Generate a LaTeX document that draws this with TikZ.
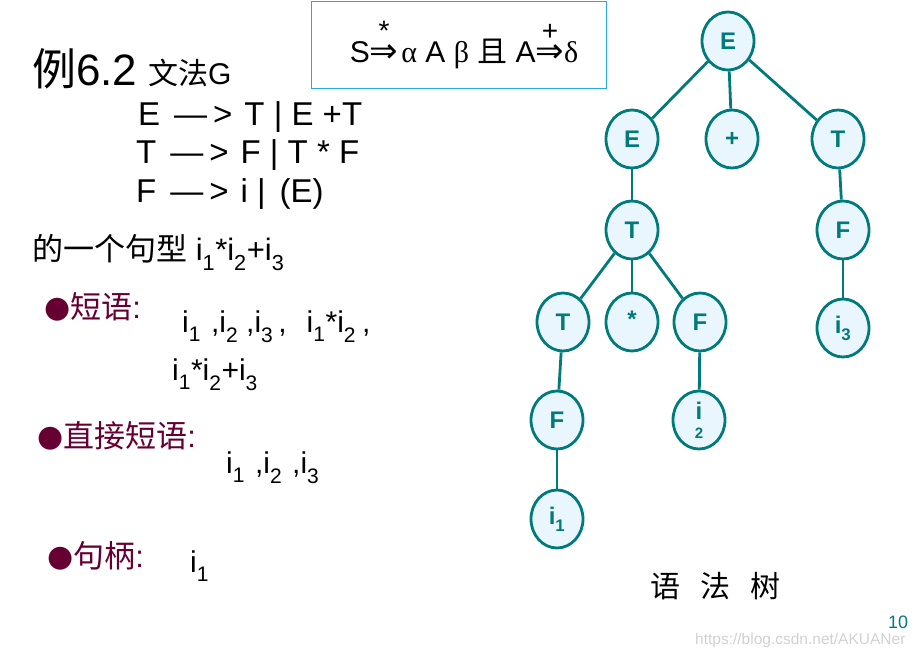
\documentclass[tikz,border=0pt]{standalone}
\usepackage{fontspec}
\setmainfont{Liberation Sans}
\newfontfamily\cjk{Noto Sans CJK SC}
\newfontfamily\dv{DejaVu Sans}
\newfontfamily\greek{Liberation Serif}
\usetikzlibrary{positioning}
\usetikzlibrary{shapes.geometric}

\definecolor{treeline}{RGB}{0,122,122}
\definecolor{treefill}{RGB}{234,246,253}
\definecolor{maroon}{RGB}{102,0,51}
\definecolor{boxblue}{RGB}{41,168,224}

\newcommand{\isub}[1]{i\raisebox{-0.25ex}{\textsubscript{#1}}}
\newcommand{\fsz}[1]{\fontsize{#1}{#1}\selectfont}
\newcommand{\bul}{{\dv\fsz{30}\raisebox{1pt}{●}}}
\newcommand{\drv}[1]{\shortstack{{\fsz{28}#1}\\[1pt]{\dv\fsz{34}⇒}}}

\tikzset{
  tnode/.style={ellipse, draw=treeline, fill=treefill, line width=2.8pt,
    minimum width=52pt, minimum height=58pt, inner sep=0pt,
    text=treeline, font=\fsz{24}\bfseries},
  tedge/.style={draw=treeline, line width=2.8pt},
  txt/.style={anchor=base west, inner sep=0pt}
}

\begin{document}
\begin{tikzpicture}[x=1pt,y=-1pt]
\useasboundingbox (0,0) rectangle (921,656);

% heading and grammar
\node[txt, font=\fsz{44}] (title) at (32,85) {{\cjk 例}6.2};
\node[txt, font=\fsz{30}] (gram) at (148,84) {{\cjk 文法}G};
\node[txt, font=\fsz{33}] (ruleE) at (138,125) {E\hspace{14pt}—\hspace{6pt}>\hspace{12pt}T | E +T};
\node[txt, font=\fsz{33}] (ruleT) at (136,163) {T\hspace{14pt}—\hspace{6pt}>\hspace{12pt}F | T * F};
\node[txt, font=\fsz{33}] (ruleF) at (136,202) {F\hspace{14pt}—\hspace{6pt}>\hspace{12pt}i |\hspace{14pt}(E)};
\node[txt, font=\fsz{31}] (form) at (32,260) {{\cjk 的一个句型} \isub{1}*\isub{2}+\isub{3}};

% derivation box
\node[draw=boxblue, line width=1.2pt, minimum width=295pt, minimum height=87pt,
  anchor=north west, inner sep=0pt, font=\fsz{30}] (deriv) at (311,1)
  {\hspace{10pt}\raisebox{-14pt}{S\drv{*}\hspace{3pt}{\greek α} A {\greek β} {\cjk 且} A\drv{+}{\greek δ}}};

% phrases
\node[txt, font=\fsz{31}, text=maroon] (phr) at (44,318) {\bul{\cjk 短语}:};
\node[txt, font=\fsz{30}] (phrA) at (182,332)
  {\isub{1}\hspace{10pt},\isub{2}\hspace{8pt},\isub{3}\,,\hspace{20pt}\isub{1}*\isub{2}\hspace{6pt},};
\node[txt, font=\fsz{30}] (phrB) at (172,380) {\isub{1}*\isub{2}+\isub{3}};
\node[txt, font=\fsz{31}, text=maroon] (dphr) at (37,447) {\bul{\cjk 直接短语}:};
\node[txt, font=\fsz{30}] (dphrA) at (226,473) {\isub{1}\hspace{10pt},\isub{2}\hspace{10pt},\isub{3}};
\node[txt, font=\fsz{31}, text=maroon] (hndl) at (47,567) {\bul{\cjk 句柄}:};
\node[txt, font=\fsz{30}] (hndlA) at (190,572) {\isub{1}};

% syntax tree
\node[tnode] (root) at (728,41) {E};
\node[tnode] (e1) at (632,139) {E};
\node[tnode] (plus) at (732,139) {+};
\node[tnode] (t1) at (838,139) {T};
\node[tnode] (t2) at (632,230) {T};
\node[tnode] (f1) at (843,230) {F};
\node[tnode] (t3) at (563,322) {T};
\node[tnode] (star) at (632,322) {\raisebox{6pt}{*}};
\node[tnode] (f2) at (700,322) {F};
\node[tnode] (i3) at (843,328) {\isub{3}};
\node[tnode] (f3) at (557,420) {F};
\node[tnode, align=center] (i2) at (699,420) {\raisebox{-6pt}{i}\\[1pt]{\fsz{15}2}};
\node[tnode] (i1) at (557,519) {\isub{1}};

\draw[tedge] (root) -- (e1);
\draw[tedge] (root) -- (plus);
\draw[tedge] (root) -- (t1);
\draw[tedge] (e1) -- (t2);
\draw[tedge] (t1) -- (f1);
\draw[tedge] (t2) -- (t3);
\draw[tedge] (t2) -- (star);
\draw[tedge] (t2) -- (f2);
\draw[tedge] (f1) -- (i3);
\draw[tedge] (t3) -- (f3);
\draw[tedge] (f2) -- (i2);
\draw[tedge] (f3) -- (i1);

\node[txt, font=\fsz{30}] (cap) at (650,597) {\cjk 语\hspace{20pt}法\hspace{20pt}树};
\node[txt, font=\fsz{18}, text=treeline] (page) at (888,628) {10};
\node[txt, font=\fsz{15.5}, text=black!18] (mark) at (695,644) {https://blog.csdn.net/AKUANer};
\end{tikzpicture}
\end{document}
